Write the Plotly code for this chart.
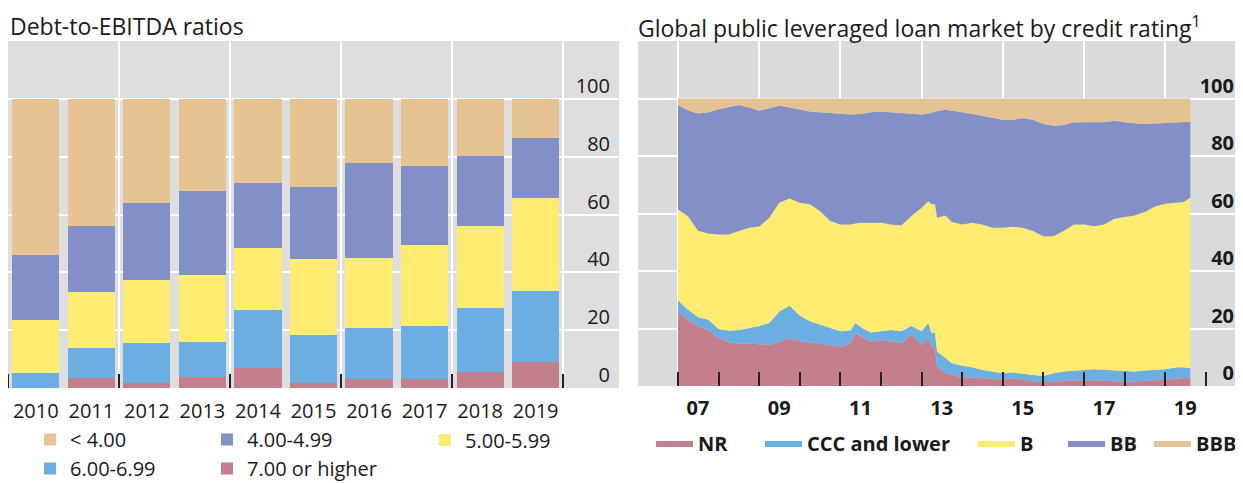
import numpy as np
import plotly.graph_objects as go

# The page body has an 8px margin, so the figure is laid out in page pixels minus 8.
PAGE_W, PAGE_H = 1243, 483
OFF = 8
W, H = PAGE_W - OFF, PAGE_H - OFF


def fx(px):
    return (px - OFF) / W


def fy(py):
    return 1 - (py - OFF) / H


# ---------------- Left panel data: Debt-to-EBITDA ratios (% of total) ----------------
years = [2010, 2011, 2012, 2013, 2014, 2015, 2016, 2017, 2018, 2019]
year_labels = [str(y) for y in years]
lev_7plus = [0.0, 3.6, 1.8, 3.7, 6.8, 1.8, 3.0, 3.0, 5.7, 8.9]
lev_6_699 = [5.3, 10.4, 13.6, 12.2, 20.1, 16.5, 17.6, 18.5, 22.0, 24.7]
lev_5_599 = [18.1, 19.2, 21.8, 23.3, 21.6, 26.2, 24.5, 27.8, 28.2, 32.1]
lev_4_499 = [22.5, 22.7, 26.7, 29.1, 22.5, 24.9, 32.6, 27.6, 24.3, 20.6]
lev_lt4 = [54.1, 44.1, 36.1, 31.7, 29.0, 30.6, 22.3, 23.1, 19.8, 13.7]

# ---------------- Right panel data: cumulative shares by rating (% of market) ----------------
dates = [
    "2007-01-01", "2007-04-01", "2007-07-01", "2007-10-01",
    "2008-01-01", "2008-04-01", "2008-07-01", "2008-10-01",
    "2009-01-01", "2009-04-01", "2009-07-01", "2009-10-01",
    "2010-01-01", "2010-04-01", "2010-07-01", "2010-10-01",
    "2011-01-01", "2011-04-01", "2011-05-15", "2011-07-01", "2011-10-01",
    "2012-01-01", "2012-04-01", "2012-07-01", "2012-10-01",
    "2013-01-01", "2013-03-01", "2013-04-01", "2013-05-01", "2013-05-20",
    "2013-08-01", "2013-10-01",
    "2014-01-01", "2014-04-01", "2014-07-01", "2014-10-01",
    "2015-01-01", "2015-04-01", "2015-07-01", "2015-10-01",
    "2016-01-01", "2016-04-01", "2016-07-01", "2016-10-01",
    "2017-01-01", "2017-04-01", "2017-07-01", "2017-10-01",
    "2018-01-01", "2018-04-01", "2018-07-01", "2018-10-01",
    "2019-01-01", "2019-04-01", "2019-06-15", "2019-08-15",
]
nr_cum = [25.9, 23.0, 20.7, 19.5, 16.6, 15.2, 14.7, 14.9, 14.5, 14.3, 15.5, 16.6,
          15.6, 15.1, 14.7, 14.3, 13.7, 14.9, 18.4, 17.2, 15.5, 15.8, 15.5, 14.9, 17.8,
          14.3, 16.6, 13.7, 13.1, 6.7, 4.7, 3.8, 3.0, 2.9, 2.7, 2.5, 2.3, 2.7, 2.1, 1.5,
          1.4, 1.4, 1.9, 2.0, 2.1, 2.0, 1.9, 1.7, 1.5, 1.6, 1.7, 2.0, 2.3, 2.7, 2.8, 2.9]
ccc_cum = [29.7, 26.5, 23.9, 23.0, 19.8, 19.2, 19.5, 20.1, 20.9, 21.9, 25.9, 27.9,
           24.5, 22.5, 21.3, 20.1, 19.0, 19.3, 21.9, 20.5, 18.6, 19.0, 19.5, 19.0, 20.9,
           19.0, 21.9, 18.4, 18.4, 12.0, 9.7, 7.9, 7.0, 6.5, 5.6, 5.0, 4.4, 4.7, 4.2, 3.8,
           3.5, 4.4, 5.0, 5.4, 5.6, 5.8, 5.6, 5.4, 5.0, 5.0, 5.4, 5.6, 5.8, 6.4, 6.5, 6.2]
b_cum = [61.4, 59.0, 54.0, 53.0, 52.7, 52.7, 53.9, 55.0, 55.5, 58.5, 63.8, 65.2,
         63.7, 63.2, 60.9, 57.4, 56.2, 56.2, 56.5, 56.8, 56.8, 56.8, 56.2, 55.8, 59.1,
         62.0, 64.3, 63.2, 63.2, 58.5, 59.3, 57.0, 56.2, 56.8, 56.2, 55.0, 55.0, 55.4, 55.0, 53.9,
         52.1, 52.1, 53.9, 56.2, 56.2, 55.6, 56.2, 58.2, 58.8, 59.3, 60.5, 62.4, 63.4, 63.8, 64.0, 65.5]
bb_cum = [97.7, 95.8, 94.8, 95.2, 96.3, 96.9, 97.7, 96.9, 95.8, 96.6, 97.5, 96.9,
          96.2, 95.5, 95.2, 94.9, 94.6, 94.4, 94.5, 94.6, 95.2, 95.4, 95.2, 94.9, 94.6,
          94.4, 94.8, 95.2, 95.4, 95.6, 96.1, 95.8, 95.2, 94.6, 94.0, 93.4, 92.6, 92.6, 93.1, 92.6,
          91.1, 90.5, 90.8, 91.7, 91.7, 91.9, 91.7, 92.3, 91.7, 91.4, 91.1, 91.3, 91.4, 91.7, 91.7, 91.9]

y_ticks = [0, 20, 40, 60, 80, 100]

# ---------------- Styles ----------------
TAN = "#E5C492"
PURPLE = "#8390C7"
YELLOW = "#FEEC72"
BLUE = "#6AAEE2"
PINK = "#C47F8F"
BG_L = "#DEDEDE"
BG_R = "#DADADA"
TXT = "#1a1a1a"
FONT = "Open Sans"

fig = go.Figure()

legend_layout = {}


def make_legend(lid, text_x, y_px, bold=False, itemwidth=30, yanchor="middle"):
    legend_layout[lid] = dict(
        x=fx(text_x - (itemwidth + 10)), y=fy(y_px),
        xref="paper", yref="paper", xanchor="left", yanchor=yanchor,
        orientation="v", bgcolor="rgba(0,0,0,0)", borderwidth=0,
        itemwidth=itemwidth, tracegroupgap=0, traceorder="reversed",
        font=dict(family=FONT, size=20, color=TXT, weight=700 if bold else 400),
    )
    return lid


# Left legend: three columns (two rows)
make_legend("legend", 70, 454)
make_legend("legend2", 247, 454)
make_legend("legend3", 465, 440)

# Left stacked bars (bottom to top)
left_series = [
    ("7.00 or higher", lev_7plus, PINK, "legend2"),
    ("6.00-6.99", lev_6_699, BLUE, "legend"),
    ("5.00-5.99", lev_5_599, YELLOW, "legend3"),
    ("4.00-4.99", lev_4_499, PURPLE, "legend2"),
    ("< 4.00", lev_lt4, TAN, "legend"),
]
for name, vals, col, lid in left_series:
    fig.add_trace(go.Bar(
        x=years, y=vals, name=name, marker=dict(color=col, line=dict(width=0)),
        xaxis="x", yaxis="y", legend=lid, showlegend=True,
    ))

# Right stacked areas (bottom to top)
nr = np.array(nr_cum)
ccc = np.array(ccc_cum) - np.array(nr_cum)
b = np.array(b_cum) - np.array(ccc_cum)
bb = np.array(bb_cum) - np.array(b_cum)
bbb = 100 - np.array(bb_cum)
right_series = [
    ("NR", nr, PINK, 698),
    ("CCC and lower", ccc, BLUE, 807),
    ("B", b, YELLOW, 1020),
    ("BB", bb, PURPLE, 1110),
    ("BBB", bbb, "#E2C391", 1196),
]
for j, (name, vals, col, tx) in enumerate(right_series):
    lid = make_legend(f"legend{4 + j}", tx, 443, bold=True, itemwidth=37)
    fig.add_trace(go.Scatter(
        x=dates, y=vals, name=name, mode="lines", stackgroup="r",
        line=dict(width=0, color=col), fillcolor=col,
        xaxis="x2", yaxis="y2", legend=lid, showlegend=True,
    ))

bold_font = dict(family=FONT, size=20, color=TXT, weight=700)
reg_font = dict(family=FONT, size=20, color=TXT)
title_font = dict(family=FONT, size=23, color=TXT)

fig.update_layout(
    width=W, height=H,
    margin=dict(l=0, r=0, t=0, b=0, pad=0, autoexpand=False),
    paper_bgcolor="white", plot_bgcolor="white",
    font=reg_font,
    barmode="stack", bargap=0.15,
    **legend_layout,
    xaxis=dict(
        domain=[fx(8), fx(619)], range=[2009.5, 2020.5], anchor="y",
        tickmode="array", tickvals=years, ticktext=year_labels,
        ticks="", showgrid=False, zeroline=False, showline=False,
        tickfont=reg_font, ticklabelstandoff=9,
        minor=dict(tickmode="linear", tick0=2009.5, dtick=2, ticks="inside",
                   ticklen=14, tickwidth=1.6, tickcolor="#222",
                   showgrid=True, gridcolor="white", gridwidth=1.6),
    ),
    yaxis=dict(
        domain=[fy(388), fy(41)], range=[0, 120], anchor="x",
        side="right", tickmode="array", tickvals=y_ticks,
        ticklabelposition="inside", ticklabeloverflow="allow",
        ticklabelshift=-13, ticklabelstandoff=6,
        ticks="", showgrid=True, gridcolor="white", gridwidth=1.6,
        zeroline=False, showline=False, tickfont=reg_font,
    ),
    xaxis2=dict(
        domain=[fx(638), 1.0], type="date", range=["2006-01-06", "2020-12-01"],
        anchor="y2", tickmode="linear", tick0="2007-01-01", dtick="M24",
        tickformat="%y", ticks="inside", ticklen=14, tickwidth=1.6, tickcolor="#222",
        ticklabelshift=20, ticklabelstandoff=8,
        showgrid=True, gridcolor="white", gridwidth=1.6, zeroline=False, showline=False,
        tickfont=bold_font,
        minor=dict(tickmode="linear", tick0="2007-01-01", dtick="M12", ticks="inside",
                   ticklen=14, tickwidth=1.6, tickcolor="#222", showgrid=False),
    ),
    yaxis2=dict(
        domain=[fy(386), fy(41)], range=[0, 120], anchor="x2",
        side="right", tickmode="array", tickvals=y_ticks,
        ticklabelposition="inside", ticklabeloverflow="allow",
        ticklabelshift=-13, ticklabelstandoff=6,
        ticks="", showgrid=True, gridcolor="white", gridwidth=1.6,
        zeroline=False, showline=False, tickfont=bold_font,
    ),
    annotations=[
        dict(text="Debt-to-EBITDA ratios", x=fx(8), y=1.0, xref="paper", yref="paper",
             xanchor="left", yanchor="top", showarrow=False, font=title_font),
        dict(text="Global public leveraged loan market by credit rating<sup>1</sup>",
             x=fx(636), y=1.0, xref="paper", yref="paper",
             xanchor="left", yanchor="top", showarrow=False, font=title_font),
    ],
)

# backgrounds of the two plot areas
fig.add_shape(type="rect", xref="x domain", yref="y domain", x0=0, x1=1, y0=0, y1=1,
              fillcolor=BG_L, line=dict(width=0), layer="below")
fig.add_shape(type="rect", xref="x2 domain", yref="y2 domain", x0=0, x1=1, y0=0, y1=1,
              fillcolor=BG_R, line=dict(width=0), layer="below")

fig.write_html("out.html")
